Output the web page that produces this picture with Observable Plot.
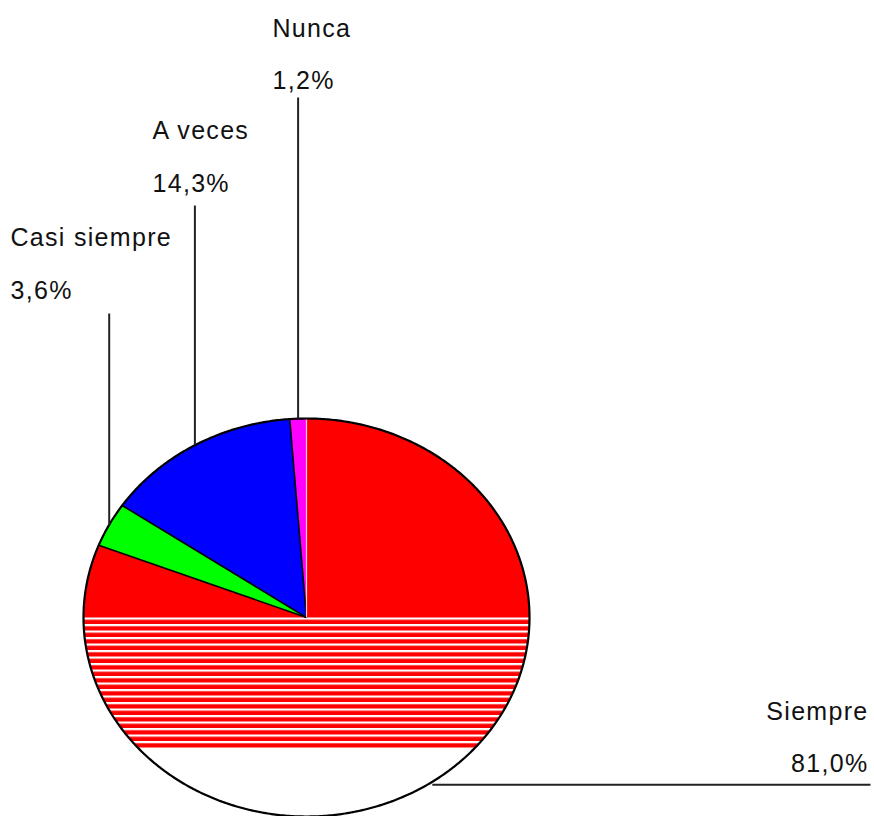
<!DOCTYPE html>
<html>
<head>
<meta charset="utf-8">
<script src="https://cdn.jsdelivr.net/npm/d3@7"></script>
<script src="https://cdn.jsdelivr.net/npm/@observablehq/plot@0.6"></script>
<style>
  html, body { margin: 0; padding: 0; background: #ffffff; }
  #chart svg { display: block; }
  #chart svg text { letter-spacing: 1.3px; }
</style>
</head>
<body>
<div id="chart"></div>
<script>
// ---- data ----
const categories = ["Nunca", "A veces", "Casi siempre", "Siempre"];
const values = [1.2, 14.3, 3.6, 81.0];
const valueLabels = ["1,2%", "14,3%", "3,6%", "81,0%"];
const colors = ["#ff00ff", "#0000ff", "#00ff00", "#ff0000"];

// ---- layout ----
const W = 874, H = 816;
const cx = 306, cy = 617, rx = 223, ry = 199;
const labelX = [272, 152, 10, 868];
const labelAnchor = ["start", "start", "start", "end"];
const nameY = [28, 130, 237, 711];
const valueY = [80, 183, 290, 763];
const leaderEnd = [97, 205, 313, 870]; // vertical: top y; horizontal (last): right x
const stripeCut = 748;

// point on ellipse, f = fraction of turn counter-clockwise from 12 o'clock
function pt(f) {
  const t = f * 2 * Math.PI;
  return {x: cx - rx * Math.sin(t), y: cy - ry * Math.cos(t)};
}

const total = d3.sum(values);
const starts = [], ends = [];
let acc = 0;
values.forEach(v => { starts.push(acc / total); acc += v; ends.push(acc / total); });

// slice polygons
const slices = categories.map((c, i) => {
  const pts = [{x: cx, y: cy}];
  const n = Math.max(2, Math.ceil((ends[i] - starts[i]) * 720));
  for (let k = 0; k <= n; k++) pts.push(pt(starts[i] + (ends[i] - starts[i]) * k / n));
  pts.push({x: cx, y: cy});
  return pts;
});

// outline
const outline = d3.range(0, 721).map(k => pt(k / 720));

// lower half (white) and striped band
const lowerHalf = d3.range(0, 361).map(k => pt(0.25 + 0.5 * k / 360));
const aCut = Math.acos(-(stripeCut - cy) / ry) / (2 * Math.PI);
const band = [
  ...d3.range(0, 101).map(k => pt(0.25 + (aCut - 0.25) * k / 100)),
  ...d3.range(0, 101).map(k => pt((1 - aCut) + (0.75 - (1 - aCut)) * k / 100))
];

// radial boundaries
const radials = categories.map((c, i) => ({...pt(starts[i]), first: i === 0}));

// leaders
const mids = categories.map((c, i) => pt((starts[i] + ends[i]) / 2));
const leaders = categories.map((c, i) => {
  const m = mids[i];
  if (i === categories.length - 1) return {x1: m.x, y1: m.y + 3, x2: leaderEnd[i], y2: m.y + 3};
  return {x1: m.x, y1: m.y, x2: m.x, y2: leaderEnd[i]};
});

const labels = [];
categories.forEach((c, i) => {
  labels.push({x: labelX[i], y: nameY[i], text: c, anchor: labelAnchor[i]});
  labels.push({x: labelX[i], y: valueY[i], text: valueLabels[i], anchor: labelAnchor[i]});
});

const font = {fontSize: 25, fontFamily: "Liberation Sans, Arial, sans-serif", fill: "#111"};

const marks = [];
slices.forEach((pts, i) => {
  marks.push(Plot.line(pts, {x: "x", y: "y", fill: colors[i], stroke: "none"}));
});
marks.push(Plot.line(lowerHalf, {x: "x", y: "y", fill: "white", stroke: "none"}));
marks.push(Plot.line(band, {x: "x", y: "y", fill: "url(#stripes)", stroke: "none"}));
marks.push(Plot.link(radials.filter(d => !d.first), {x1: cx, y1: cy, x2: "x", y2: "y", stroke: "black", strokeWidth: 1.6}));
marks.push(Plot.link(radials.filter(d => d.first), {x1: cx, y1: cy, x2: "x", y2: "y", stroke: "#ffd0d0", strokeWidth: 1.2}));
marks.push(Plot.line(outline, {x: "x", y: "y", stroke: "black", strokeWidth: 2.2}));
marks.push(Plot.link(leaders, {x1: "x1", y1: "y1", x2: "x2", y2: "y2", stroke: "#222", strokeWidth: 2}));
marks.push(Plot.text(labels.filter(d => d.anchor === "start"), {x: "x", y: "y", text: "text", textAnchor: "start", ...font}));
marks.push(Plot.text(labels.filter(d => d.anchor === "end"), {x: "x", y: "y", text: "text", textAnchor: "end", ...font}));

const chart = Plot.plot({
  width: W,
  height: H,
  margin: 0,
  x: {domain: [0, W], range: [0, W], axis: null},
  y: {domain: [0, H], range: [0, H], axis: null},
  style: {background: "white", overflow: "visible"},
  marks
});

// stripe pattern definition
const svg = d3.select(chart);
const defs = svg.insert("defs", ":first-child");
const pat = defs.append("pattern")
  .attr("id", "stripes")
  .attr("patternUnits", "userSpaceOnUse")
  .attr("x", 0).attr("y", cy)
  .attr("width", 20).attr("height", 6.5);
pat.append("rect").attr("width", 20).attr("height", 6.5).attr("fill", "#ff0000");
pat.append("rect").attr("y", 0).attr("width", 20).attr("height", 2.2).attr("fill", "#ffffff");

document.getElementById("chart").appendChild(chart);
</script>
</body>
</html>
